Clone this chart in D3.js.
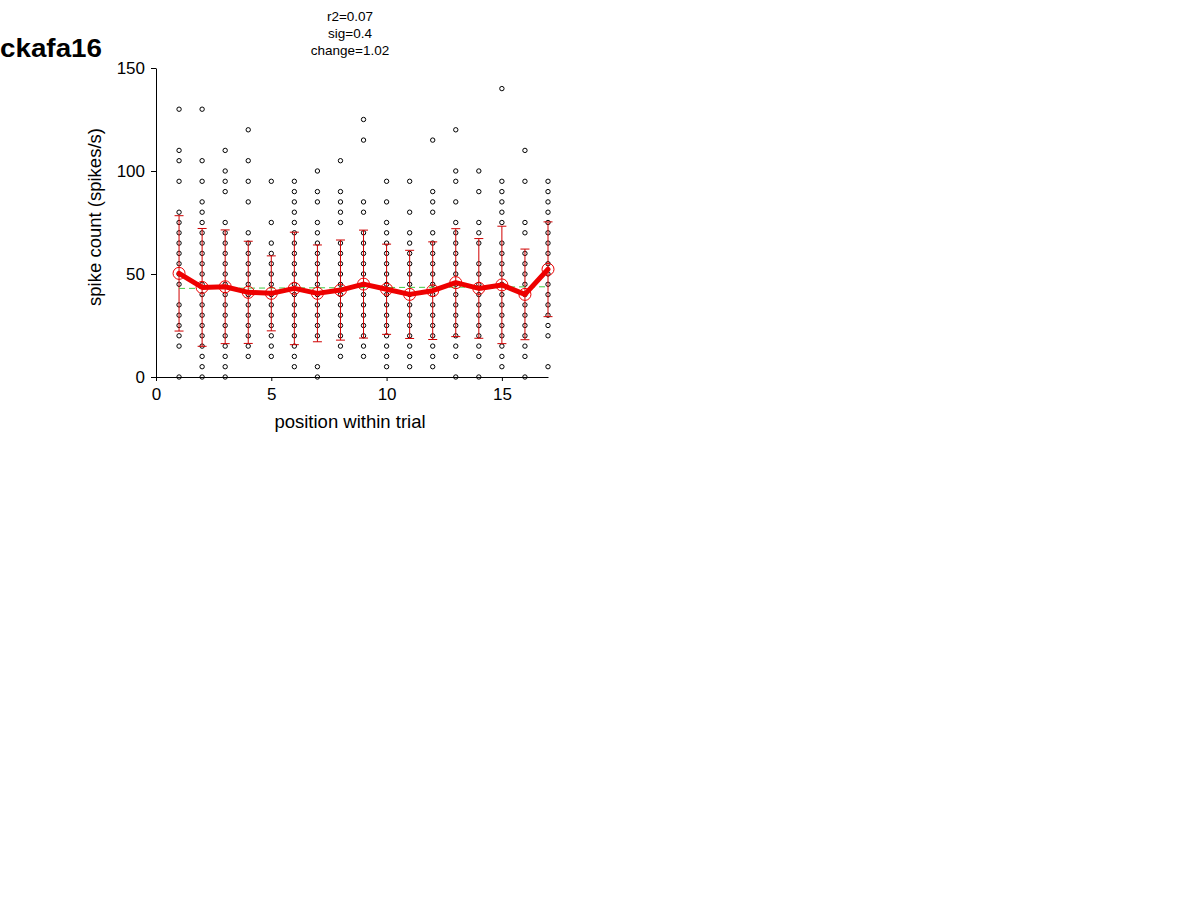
<!DOCTYPE html>
<html>
<head>
<meta charset="utf-8">
<script src="https://cdn.jsdelivr.net/npm/d3@7"></script>
<style>
  html, body { margin: 0; padding: 0; background: #fff; }
  svg { display: block; }
  text { font-family: "Liberation Sans", Arial, Helvetica, sans-serif; }
</style>
</head>
<body>
<svg id="chart" width="1200" height="901"></svg>
<script>
// ---------- data ----------
const chartTitle = "ckafa16";
const statLines = ["r2=0.07", "sig=0.4", "change=1.02"];
const xLabel = "position within trial";
const yLabel = "spike count (spikes/s)";
const xTicks = [0, 5, 10, 15];
const yTicks = [0, 50, 100, 150];
const positions = [1, 2, 3, 4, 5, 6, 7, 8, 9, 10, 11, 12, 13, 14, 15, 16, 17];

// individual trial spike rates per position
const trialRates = [
  [130, 110, 105, 95, 80, 75, 70, 65, 60, 55, 50, 45, 35, 30, 25, 20, 15, 0],
  [130, 105, 95, 85, 80, 75, 70, 65, 60, 55, 50, 45, 40, 35, 30, 25, 20, 15, 10, 5, 0],
  [110, 100, 95, 90, 75, 70, 65, 60, 55, 50, 45, 40, 35, 30, 25, 20, 15, 10, 5, 0],
  [120, 105, 95, 85, 70, 65, 60, 55, 50, 45, 40, 35, 30, 25, 20, 15, 10],
  [95, 75, 65, 60, 55, 50, 45, 40, 35, 30, 25, 20, 15, 10],
  [95, 90, 85, 80, 75, 70, 65, 60, 55, 50, 45, 40, 35, 30, 25, 20, 15, 10, 5],
  [100, 90, 85, 75, 70, 65, 60, 55, 50, 45, 40, 35, 30, 25, 20, 5, 0],
  [105, 90, 85, 80, 75, 65, 60, 55, 50, 45, 40, 35, 30, 25, 20, 15, 10],
  [125, 115, 85, 80, 70, 65, 60, 55, 50, 45, 40, 35, 30, 25, 20, 15, 10],
  [95, 85, 75, 70, 65, 60, 55, 50, 45, 40, 35, 30, 25, 20, 15, 10, 5],
  [95, 80, 70, 65, 60, 55, 50, 45, 40, 35, 30, 25, 20, 15, 10, 5],
  [115, 90, 85, 80, 70, 65, 60, 55, 50, 45, 40, 35, 30, 25, 20, 15, 10, 5],
  [120, 100, 95, 85, 75, 70, 65, 60, 55, 50, 45, 40, 35, 30, 25, 20, 15, 10, 0],
  [100, 90, 75, 70, 65, 55, 50, 45, 40, 35, 30, 25, 20, 15, 10, 0],
  [140, 95, 90, 85, 80, 75, 65, 60, 55, 50, 45, 40, 35, 30, 25, 20, 15, 10, 5],
  [110, 95, 75, 70, 60, 55, 50, 45, 40, 35, 30, 25, 20, 15, 10, 0],
  [95, 90, 85, 80, 75, 70, 65, 60, 55, 50, 45, 40, 35, 30, 25, 20, 5]
];

// mean rate and standard deviation per position
const meanRates = [50.3, 43.5, 43.8, 41.1, 40.6, 43.0, 40.6, 42.2, 45.1, 42.6, 40.1, 41.9, 45.8, 43.0, 44.7, 40.1, 52.3];
const sdRates   = [28.0, 28.6, 27.6, 24.8, 18.2, 27.3, 23.5, 24.3, 26.2, 21.9, 21.4, 23.7, 26.2, 24.2, 28.5, 22.0, 23.0];

// linear fit endpoints (position, rate)
const fitX = [1, 17];
const fitY = [43.0, 43.8];

// ---------- drawing ----------
const svg = d3.select("#chart");
const x = d3.scaleLinear().domain([0, 17]).range([156, 548]);
const y = d3.scaleLinear().domain([0, 150]).range([377, 68]);

// title
svg.append("text")
  .attr("x", 0).attr("y", 57)
  .attr("font-size", 25).attr("font-weight", "bold")
  .attr("textLength", 102).attr("lengthAdjust", "spacingAndGlyphs")
  .text(chartTitle);

// stats
svg.append("g").selectAll("text").data(statLines).join("text")
  .attr("x", 350).attr("y", (d, i) => 21 + i * 17)
  .attr("text-anchor", "middle").attr("font-size", 13.5)
  .text(d => d);

// axes
const yAxis = d3.axisLeft(y).tickValues(yTicks).tickSize(5).tickSizeOuter(0).tickPadding(6);
const gy = svg.append("g").attr("transform", "translate(156,0)").call(yAxis);
const xAxis = d3.axisBottom(x).tickValues(xTicks).tickSize(4).tickSizeOuter(0).tickPadding(7);
const gx = svg.append("g").attr("transform", "translate(0,377)").call(xAxis);
[gx, gy].forEach(g => {
  g.selectAll("text").attr("font-size", 17).attr("fill", "#000")
    .attr("font-family", "'Liberation Sans', Arial, sans-serif");
  g.selectAll("path, line").attr("stroke", "#000").attr("stroke-width", 1);
});

// axis labels
svg.append("text")
  .attr("x", 350).attr("y", 428)
  .attr("text-anchor", "middle").attr("font-size", 18.5)
  .text(xLabel);
svg.append("text")
  .attr("transform", "translate(101,217) rotate(-90)")
  .attr("text-anchor", "middle").attr("font-size", 18.5)
  .text(yLabel);

// trial dots
const dots = [];
positions.forEach((p, i) => trialRates[i].forEach(v => dots.push({ p, v })));
svg.append("g").selectAll("circle").data(dots).join("circle")
  .attr("cx", d => x(d.p)).attr("cy", d => y(d.v)).attr("r", 2.2)
  .attr("fill", "none").attr("stroke", "#000").attr("stroke-width", 1);

// error bars
const eb = svg.append("g").attr("stroke", "#d00000").attr("stroke-width", 1);
positions.forEach((p, i) => {
  const top = meanRates[i] + sdRates[i], bot = meanRates[i] - sdRates[i];
  eb.append("line").attr("x1", x(p)).attr("x2", x(p)).attr("y1", y(top)).attr("y2", y(bot));
  eb.append("line").attr("x1", x(p) - 4.5).attr("x2", x(p) + 4.5).attr("y1", y(top)).attr("y2", y(top));
  eb.append("line").attr("x1", x(p) - 4.5).attr("x2", x(p) + 4.5).attr("y1", y(bot)).attr("y2", y(bot));
});

// regression line
svg.append("line")
  .attr("x1", x(fitX[0])).attr("y1", y(fitY[0]))
  .attr("x2", x(fitX[1])).attr("y2", y(fitY[1]))
  .attr("stroke", "#44cc44").attr("stroke-width", 1).attr("stroke-dasharray", "6,4");

// mean line
const line = d3.line().x((d, i) => x(positions[i])).y(d => y(d));
svg.append("path").datum(meanRates)
  .attr("d", line).attr("fill", "none")
  .attr("stroke", "#ee0000").attr("stroke-width", 5)
  .attr("stroke-linejoin", "round").attr("stroke-linecap", "round");

svg.append("g").selectAll("circle").data(meanRates).join("circle")
  .attr("cx", (d, i) => x(positions[i])).attr("cy", d => y(d)).attr("r", 6)
  .attr("fill", "none").attr("stroke", "#ee0000").attr("stroke-width", 1);
</script>
</body>
</html>
